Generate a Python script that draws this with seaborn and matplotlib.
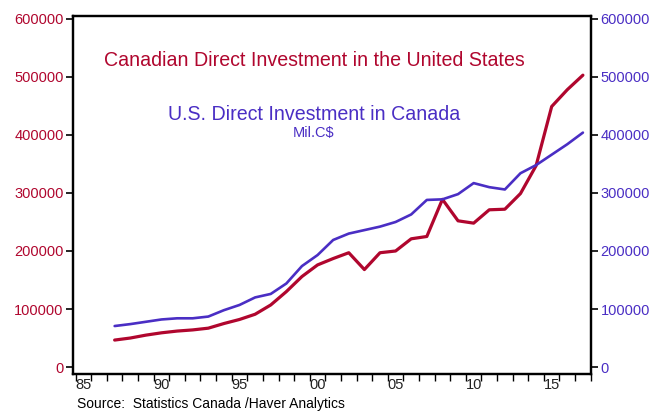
import matplotlib
matplotlib.use("Agg")
import matplotlib.pyplot as plt
import seaborn as sns
import pandas as pd
import numpy as np
from matplotlib.ticker import FixedLocator, NullFormatter, FixedFormatter

years = list(range(1987, 2018))
canada_in_us = [46500, 50000, 55000, 59000, 62000, 64000, 67000, 75000, 82000, 91000,
                107000, 130000, 156000, 176000, 187000, 197000, 168000, 197000, 200000, 221000,
                225000, 289000, 252000, 248000, 271000, 272000, 299000, 347000, 449000, 478000,
                503000]
us_in_canada = [70700, 74000, 78000, 82000, 84000, 84000, 87000, 98000, 107000, 120000,
                126000, 144000, 174000, 193000, 219000, 230000, 236000, 242000, 250000, 263000,
                288000, 289000, 298000, 317000, 310000, 306000, 334000, 348000, 366000, 384000,
                404000]
ytick_vals = [0, 100000, 200000, 300000, 400000, 500000, 600000]
xtick_years = [1985, 1990, 1995, 2000, 2005, 2010, 2015]
xtick_labels = ["85", "90", "95", "00", "05", "10", "15"]

RED = "#B0062E"
BLUE = "#4A2EC4"

sns.set_theme(style="white")
plt.rcParams["font.family"] = ["Liberation Sans", "DejaVu Sans"]

df = pd.DataFrame({"pos": np.array(years) + 0.5, "can": canada_in_us, "us": us_in_canada})

fig = plt.figure(figsize=(6.52, 4.13), dpi=100)
ax = fig.add_axes([0.1124, 0.0944, 0.7936, 0.8669])
ax2 = ax.twinx()

sns.lineplot(data=df, x="pos", y="can", ax=ax, color=RED, linewidth=2.3)
sns.lineplot(data=df, x="pos", y="us", ax=ax2, color=BLUE, linewidth=1.9)

for a in (ax, ax2):
    a.set_xlim(1984.85, 2018.0)
    a.set_ylim(-12000, 605000)
    a.set_xlabel("")
    a.set_ylabel("")
    for s in a.spines.values():
        s.set_color("black")
        s.set_linewidth(1.6)

ax.set_yticks(ytick_vals)
ax.set_yticklabels([str(v) for v in ytick_vals], color=RED, fontsize=10.5)
ax2.set_yticks(ytick_vals)
ax2.set_yticklabels([str(v) for v in ytick_vals], color=BLUE, fontsize=10.5)
ax.tick_params(axis="y", direction="out", length=5, width=1.2, color="black", pad=2, left=True)
ax2.tick_params(axis="y", direction="out", length=5, width=1.2, color="black", pad=2, right=True)

# year ticks on boundaries, labels centered in the year interval
ax.xaxis.set_major_locator(FixedLocator(list(range(1985, 2019))))
ax.xaxis.set_major_formatter(NullFormatter())
ax.xaxis.set_minor_locator(FixedLocator([y + 0.5 for y in xtick_years]))
ax.xaxis.set_minor_formatter(FixedFormatter(xtick_labels))
ax.tick_params(axis="x", which="major", direction="out", length=5, width=1.0, color="black", bottom=True)
ax.tick_params(axis="x", which="minor", length=0, labelsize=10.5, labelcolor="#222222", pad=3, bottom=True)
ax2.tick_params(axis="x", which="both", bottom=False, top=False, labelbottom=False)

ax.text(0.465, 0.877, "Canadian Direct Investment in the United States", transform=ax.transAxes,
        ha="center", va="center", color=RED, fontsize=14.1)
ax.text(0.465, 0.726, "U.S. Direct Investment in Canada", transform=ax.transAxes,
        ha="center", va="center", color=BLUE, fontsize=14.1)
ax.text(0.465, 0.672, "Mil.C$", transform=ax.transAxes,
        ha="center", va="center", color=BLUE, fontsize=10.5)

fig.text(0.118, 0.022, "Source:  Statistics Canada /Haver Analytics", ha="left", va="center",
         color="black", fontsize=10)

fig.savefig("out.png", dpi=100)
